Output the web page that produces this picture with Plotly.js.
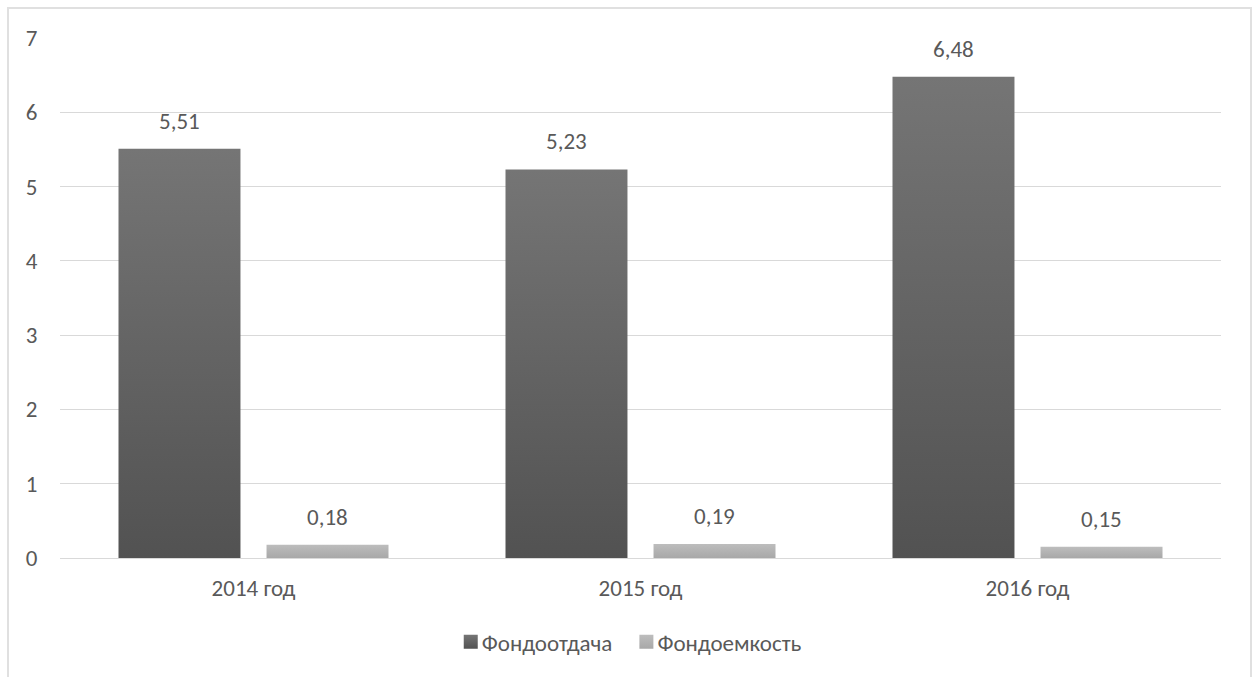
<!DOCTYPE html>
<html>
<head>
<meta charset="utf-8">
<script src="https://cdn.plot.ly/plotly-3.0.1.min.js"></script>
<style>
  html, body { margin: 0; padding: 0; background: #ffffff; }
  #frame { position: absolute; left: 7px; top: 7px; width: 1245px; height: 720px; border: 2px solid #e0e0e0; box-sizing: border-box; }
  #chart { position: absolute; left: 0; top: 0; width: 1256px; height: 677px; }
</style>
</head>
<body>
<div id="frame"></div>
<div id="chart"></div>
<script>
const categories = ['2014 год', '2015 год', '2016 год'];
const seriesNames = ['Фондоотдача', 'Фондоемкость'];
const fondootdacha = [5.51, 5.23, 6.48];
const fondoemkost = [0.18, 0.19, 0.15];
const yTicks = [0, 1, 2, 3, 4, 5, 6, 7];

const fontFamily = 'Carlito, Calibri, "Open Sans", sans-serif';
const fontSize = 23;
const textColor = '#595959';

const traces = [
  {
    type: 'bar', name: seriesNames[0], x: categories, y: fondootdacha,
    marker: { color: '#646464' }, hoverinfo: 'skip'
  },
  {
    type: 'bar', name: seriesNames[1], x: categories, y: fondoemkost,
    marker: { color: '#b2b2b2' }, hoverinfo: 'skip'
  }
];

function fmt(v) { return v.toFixed(2).replace('.', ','); }

const annotations = [];
const series = [fondootdacha, fondoemkost];
series.forEach((vals, si) => {
  vals.forEach((v, ci) => {
    annotations.push({
      x: categories[ci], y: v, xref: 'x', yref: 'y',
      text: fmt(v), showarrow: false,
      xshift: si === 0 ? -74 : 74, yshift: 12, yanchor: 'bottom',
      font: { family: fontFamily, size: fontSize, color: textColor }
    });
  });
});

const layout = {
  width: 1256, height: 677,
  margin: { l: 60, r: 35, t: 38, b: 119 },
  paper_bgcolor: 'rgba(0,0,0,0)', plot_bgcolor: 'rgba(0,0,0,0)',
  barmode: 'group', bargap: 0.235, bargroupgap: 0.176,
  separators: ', ',
  showlegend: true,
  legend: {
    orientation: 'h', x: 0.486, xanchor: 'center', y: -0.12, yanchor: 'top',
    font: { family: fontFamily, size: fontSize, color: textColor },
    itemwidth: 30, tracegroupgap: 0
  },
  xaxis: {
    type: 'category', showgrid: false, zeroline: false,
    showline: true, linecolor: '#d9d9d9', linewidth: 1,
    ticks: 'outside', ticklen: 9, tickcolor: 'rgba(0,0,0,0)',
    tickfont: { family: fontFamily, size: fontSize, color: textColor }
  },
  yaxis: {
    range: [0, 7], tickvals: yTicks, ticktext: yTicks.map(String),
    showgrid: true, gridcolor: '#d9d9d9', gridwidth: 1,
    zeroline: false, showline: false,
    ticks: 'outside', ticklen: 17, tickcolor: 'rgba(0,0,0,0)',
    tickfont: { family: fontFamily, size: fontSize, color: textColor }
  },
  annotations: annotations
};

Plotly.newPlot('chart', traces, layout, { staticPlot: true, displayModeBar: false }).then(gd => {
  // apply vertical gradients to bars (styling only)
  const svg = gd.querySelector('svg.main-svg');
  const ns = 'http://www.w3.org/2000/svg';
  let defs = svg.querySelector('defs');
  if (!defs) { defs = document.createElementNS(ns, 'defs'); svg.insertBefore(defs, svg.firstChild); }
  const grads = [['gDark', '#757575', '#525252'], ['gLight', '#bdbdbd', '#a8a8a8']];
  grads.forEach(([id, c1, c2]) => {
    const lg = document.createElementNS(ns, 'linearGradient');
    lg.setAttribute('id', id); lg.setAttribute('x1', '0'); lg.setAttribute('y1', '0');
    lg.setAttribute('x2', '0'); lg.setAttribute('y2', '1');
    const s1 = document.createElementNS(ns, 'stop'); s1.setAttribute('offset', '0'); s1.setAttribute('stop-color', c1);
    const s2 = document.createElementNS(ns, 'stop'); s2.setAttribute('offset', '1'); s2.setAttribute('stop-color', c2);
    lg.appendChild(s1); lg.appendChild(s2); defs.appendChild(lg);
  });
  gd.querySelectorAll('.barlayer .trace').forEach((tr, i) => {
    tr.querySelectorAll('path').forEach(p => { p.style.fill = 'url(#' + grads[i][0] + ')'; });
  });
  gd.querySelectorAll('.legend .traces').forEach((tr, i) => {
    const lp = tr.querySelector('.legendpoints');
    if (lp) lp.setAttribute('transform', 'translate(9,0)');
    tr.querySelectorAll('.legendpoints path').forEach(p => {
      p.style.fill = 'url(#' + grads[i][0] + ')'; p.style.stroke = 'none';
      p.setAttribute('d', 'M7,7H-7V-7H7Z');
    });
  });
});
</script>
</body>
</html>
